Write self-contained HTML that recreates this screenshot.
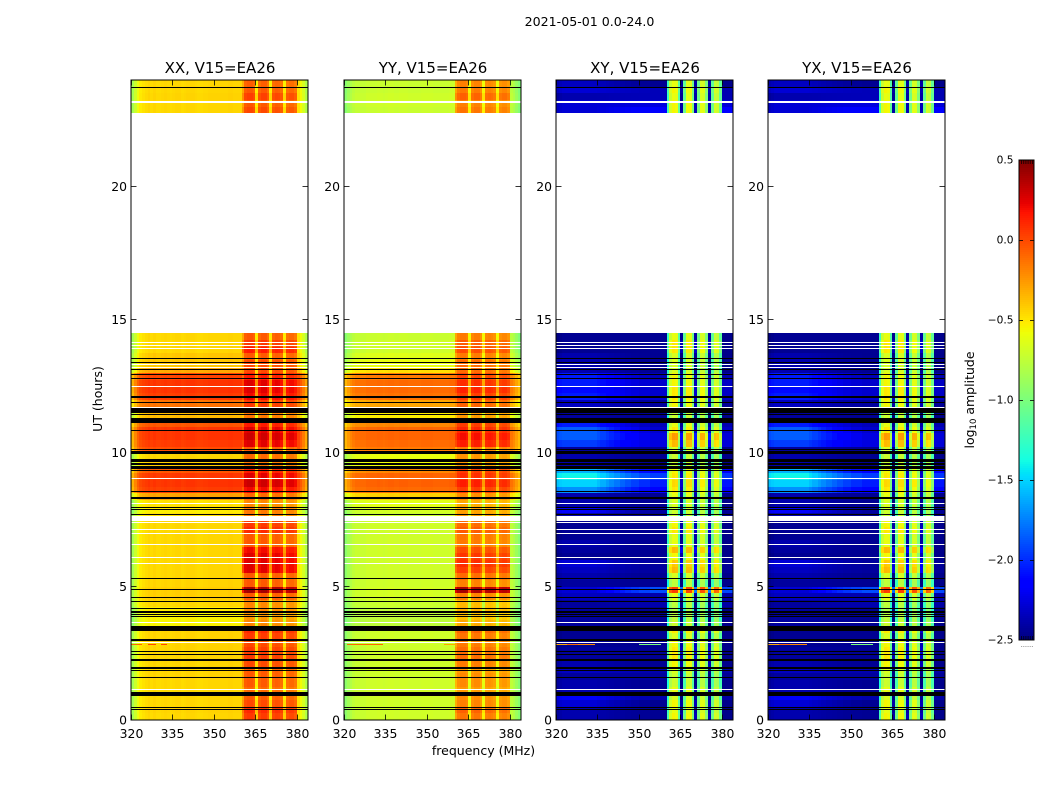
<!DOCTYPE html>
<html lang="en">
<head>
<meta charset="utf-8">
<title>2021-05-01 0.0-24.0</title>
<style>
html,body{margin:0;padding:0;background:#fff;width:1050px;height:800px;overflow:hidden}
svg{display:block}
text{font-family:"DejaVu Sans","Liberation Sans",sans-serif;fill:#000}
</style>
</head>
<body>
<svg id="fig" xmlns="http://www.w3.org/2000/svg" width="1050" height="800" viewBox="0 0 1050 800">
  <rect x="0" y="0" width="1050" height="800" fill="#fff"/>
  <text x="589.5" y="26" font-size="12.6" text-anchor="middle">2021-05-01 0.0-24.0</text>
  <g id="panels"></g>
  <text x="483.5" y="755" font-size="12.5" text-anchor="middle">frequency (MHz)</text>
  <text transform="translate(102,399) rotate(-90)" font-size="12.5" text-anchor="middle">UT (hours)</text>
  <g id="colorbar"></g>
  <text transform="translate(974,400) rotate(-90)" font-size="12.5" text-anchor="middle">log<tspan font-size="8.5" dy="2">10</tspan><tspan dy="-2"> amplitude</tspan></text>
</svg>
<script>
// Categories and tick labels
const panelTitles = ['XX, V15=EA26', 'YY, V15=EA26', 'XY, V15=EA26', 'YX, V15=EA26'];
const freqTicks = [320, 335, 350, 365, 380];
const hourTicks = [0, 5, 10, 15, 20];
const colorbarTicks = [0.5, 0.0, -0.5, -1.0, -1.5, -2.0, -2.5];
const colorbarMinorTicks = [1, 2, 3, 4, 5, 6];
const gapRows = [null,null,null,null,null,null,null,null,null,null,null,null,null,null,null,null,null,null,null,null,null,null,null,null,null,null,null,null,null,null,null,null,null];

// Row values: log10 amplitude per quarter hour, 0h upward; gap 14.5-22.75h
const xxLow = [-.47,-.46,-.47,-.47, -.47,-.47,-.46,-.46, -.46,-.46,-.46,-.46, -.46,-.46,-.56,-.56, -.54,-.47,-.44,-.44, -.46,-.47,-.47,-.47, -.47,-.47,-.47,-.47, -.47,-.47,-.50,-.54, -.50,-.30,.02,.05, .04,-.06,-.44,-.46, -.03,.03,.05,.05, -.06,-.38,-.38,-.15, .02,.05,.05,.0, -.32,-.42,-.42,-.47, -.47,-.47];
const xxLowTop = [-.47,-.47,-.46,-.47,-.47];
const xxHigh = [.0,.05,-.05,-.10, -.15,-.10,-.10,-.10, -.05,.0,.0,-.05, .0,.05,-.25,-.30, -.25,-.25,-.10,.35, -.10,-.10,.20,.20, .20,.15,-.10,-.10, .05,.0,-.20,-.20, -.25,-.15,.15,.25, .20,.10,-.20,-.15, -.10,.20,.25,.20, .10,-.20,-.20,.0, .15,.20,.20,.10, -.05,-.05,-.10,.10, .0,-.10];
const xxHighTop = [-.05,-.10,-.02,-.10,-.12];

const yyLow = [-.72,-.72,-.72,-.72, -.72,-.72,-.72,-.72, -.72,-.72,-.72,-.72, -.72,-.72,-.78,-.78, -.78,-.74,-.70,-.70, -.72,-.72,-.72,-.72, -.72,-.72,-.72,-.72, -.72,-.72,-.74,-.70, -.65,-.45,-.13,-.10, -.11,-.22,-.60,-.62, -.18,-.13,-.11,-.11, -.22,-.55,-.58,-.32, -.16,-.13,-.13,-.18, -.50,-.62,-.66,-.72, -.72,-.74];
const yyLowTop = [-.74,-.72,-.72,-.74,-.74];
const yyHigh = [-.18,-.12,-.22,-.25, -.30,-.25,-.25,-.28, -.20,-.15,-.15,-.20, -.18,-.12,-.35,-.42, -.38,-.40,-.22,.35, -.22,-.15,.0,.05, .02,-.05,-.20,-.18, -.10,-.15,-.30,-.32, -.35,-.25,.0,.10, .05,.0,-.30,-.28, -.20,.10,.15,.08, .0,-.30,-.30,-.12, .0,.08,.05,-.02, -.15,-.15,-.20,-.05, -.10,-.20];
const yyHighTop = [-.18,-.22,-.12,-.20,-.22];

const xyLowLeft = [-2.38,-2.38,-2.28,-2.18, -2.38,-2.38,-2.42,-2.33, -2.38,-2.42,-2.42,-2.45, -2.45,-2.45,-2.42,-2.42, -2.42,-2.42,-2.33,-2.28, -2.42,-2.38,-2.33,-2.28, -2.45,-2.42,-2.38,-2.45, -2.45,-2.45,-2.38,-2.18, -2.38,-2.38,-1.7,-1.5, -1.4,-1.6,-2.38,-2.38, -2.42,-1.95,-1.85,-1.85, -2.05,-2.42,-2.38,-2.33, -2.05,-2.1,-2.05,-2.05, -2.38,-2.38,-2.38,-2.45, -2.45,-2.45];
const xyLowLeftTop = [-2.28,-2.28,-2.38,-2.28,-2.33];
const xyLowRight = [-2.45,-2.45,-2.45,-2.38, -2.45,-2.45,-2.42,-2.38, -2.45,-2.45,-2.45,-2.45, -2.45,-2.45,-2.45,-2.45, -2.45,-2.38,-2.38,-1.9, -2.45,-2.45,-2.42,-2.42, -2.45,-2.45,-2.45,-2.45, -2.45,-2.45,-2.45,-2.42, -2.45,-2.45,-2.15,-2.05, -1.95,-2.15,-2.45,-2.45, -2.45,-2.25,-2.25,-2.3, -2.35,-2.45,-2.45,-2.42, -2.3,-2.3,-2.3,-2.35, -2.45,-2.45,-2.45,-2.45, -2.45,-2.45];
const xyLowRightTop = [-2.15,-2.25,-2.35,-2.35,-2.45];
const xyHigh = [-.65,-.7,-.65,-.75, -.7,-.8,-.8,-.75, -.65,-.6,-.6,-.65, -.75,-.6,-.8,-.85, -.9,-.85,-.7,-.05, -.85,-.75,-.45,-.5, -.65,-.45,-.7,-.7, -.6,-.65,-.8,-.8, -.75,-.7,-.6,-.55, -.6,-.65,-.8,-.8, -.75,-.45,-.35,-.6, -.7,-.8,-.8,-.65, -.6,-.6,-.65,-.65, -.75,-.75,-.75,-.6, -.6,-.7];
const xyHighTop = [-.65,-.65,-.7,-.65,-.7];

// Channel values: 64 one-MHz channels, offset from the row value
const parallelChannelsXX = [-.38,-.24,-.12,-.05,-.02,.0,.02,.0,.02,.0, .0,.01,.02,.01,.0,.01,.02,.02,.0,.01, .02,.02,.02,.01,.0,.0,.01,.01,.02,.02, .02,.02,.02,.02,.02,.03,.03,.02,.02,.02, -.2,.03,.06,.06,.02,-.42,.0,.05,.05,-.03, -.42,.0,.03,.02,-.02,-.42,-.03,.0,.0,-.05, -.02,-.1,-.2,-.34];
const parallelChannelsYY = [-.22,-.14,-.08,-.03,.0,.0,.0,.0,.02,.02, .02,.02,.03,.02,.01,.02,.03,.03,.02,.02, .03,.03,.03,.02,.02,.02,.02,.02,.03,.03, .03,.03,.02,.02,.02,.02,.02,.02,.03,.03, -.1,.02,.05,.05,.02,-.36,.0,.04,.04,-.03, -.36,.0,.02,.0,-.03,-.36,-.03,.0,.0,-.05, -.03,-.08,-.16,-.24];
const crossChannels = [-.05,-.02,.0,.0,.0,.0,.0,.0,.0,.0, .0,.0,.0,.0,.0,.0,.0,.0,.0,.0, .0,.0,.0,.0,.0,.0,.0,.0,.0,.0, .0,.0,.0,.0,.0,.0,.0,.0,.0,.0, -.55,-.02,.1,.08,-.45,-1.75, -.4,.08,.08,-.35, -1.7,-.35,.03,.02,-.3,-1.7,-.4,-.02,-.05,-.4, -.02,-.02,-.02,-.02];
const crossTilt = [1,1,1,1,1,1,1,1,1,1, 1,1,1,1,1,.9,.8,.8,.7,.6, .6,.5,.5,.4,.4,.3,.3,.2,.2,.2, .1,.1,.1,.1,.0,.0,.0,.0,.0,.0];
const uniformTilt = [.5,.5,.5,.5,.5,.5,.5,.5,.5,.5, .5,.5,.5,.5,.5,.5,.5,.5,.5,.5, .5,.5,.5,.5,.5,.5,.5,.5,.5,.5, .5,.5,.5,.5,.5,.5,.5,.5,.5,.5];

// Flagged time ranges in hours [start, end]
const blackFlags = [[5.29,5.32],[4.875,4.91],[4.575,4.61],[4.425,4.46],[4.16,4.2],[4.01,4.09],[3.96,3.99],[3.88,3.91],[3.34,3.53],[2.98,3.04],[2.57,2.6],[2.44,2.48],[2.23,2.29],[1.93,1.99],[1.84,1.89],[1.575,1.61],[.91,1.06],[.45,.49],[.375,.41],[13.54,13.58],[13.4,13.44],[13.125,13.16],[12.94,12.975],[12.79,12.825],[12.09,12.15],[11.9,11.94],[11.51,11.7],[11.42,11.46],[11.19,11.31],[11.12,11.16],[10.84,10.875],[10.125,10.16],[9.99,10.09],[9.73,9.77],[9.69,9.73],[9.58,9.62],[9.43,9.525],[9.36,9.39],[8.55,8.59],[8.27,8.36],[7.97,8.0],[7.875,7.91],[7.69,7.725],[23.7,23.74]];
const whiteFlags = [[14.125,14.175],[14.01,14.06],[13.9,13.95],[13.31,13.36],[13.21,13.256],[12.49,12.54],[11.68,11.74],[9.03,9.075],[8.09,8.14],[7.46,7.65],[7.4,7.44],[7.11,7.16],[6.975,7.02],[6.56,6.61],[6.075,6.125],[5.85,5.9],[3.64,3.69],[2.875,2.925],[1.125,1.175],[23.12,23.2]];

// Interference burst at 2.83h: [first channel, last channel, value]
const rfiHours = [2.8, 2.86];
const rfiXX = [[0,3,-.1],[6,8,.0],[11,12,.0]];
const rfiYY = [[1,13,-.1],[36,40,-.3]];
const rfiCross = [[0,3,-.3],[4,7,-.1],[8,13,-.2],[30,37,-1.0]];

const panelXs = [131, 344, 556, 768];
const panelSpecs = [
  {key:'xx', left:xxLow, leftTop:xxLowTop, right:xxLow, rightTop:xxLowTop, high:xxHigh, highTop:xxHighTop, channels:parallelChannelsXX, tilt:uniformTilt, rfi:rfiXX},
  {key:'yy', left:yyLow, leftTop:yyLowTop, right:yyLow, rightTop:yyLowTop, high:yyHigh, highTop:yyHighTop, channels:parallelChannelsYY, tilt:uniformTilt, rfi:rfiYY},
  {key:'xy', left:xyLowLeft, leftTop:xyLowLeftTop, right:xyLowRight, rightTop:xyLowRightTop, high:xyHigh, highTop:xyHighTop, channels:crossChannels, tilt:crossTilt, rfi:rfiCross},
  {key:'yx', left:xyLowLeft, leftTop:xyLowLeftTop, right:xyLowRight, rightTop:xyLowRightTop, high:xyHigh, highTop:xyHighTop, channels:crossChannels, tilt:crossTilt, rfi:rfiCross}
];

const SVGNS = 'http://www.w3.org/2000/svg';
const PLOT_TOP = 80, PLOT_BOTTOM = 720, PANEL_W = 177, CH_COUNT = 64, BAND_START = 40, BAND_END = 59;
const V_MIN = -2.5, V_MAX = 0.5;

function yScale(hour){ return PLOT_BOTTOM - hour * (PLOT_BOTTOM - PLOT_TOP) / 24; }
function xScale(x0, freq){ return x0 + (freq - 320) * PANEL_W / CH_COUNT; }
function seg(v, pts){
  if (v <= pts[0][0]) return pts[0][1];
  for (let i = 1; i < pts.length; i++) {
    if (v <= pts[i][0]) {
      const a = pts[i-1], b = pts[i];
      return a[1] + (b[1]-a[1]) * (v-a[0]) / (b[0]-a[0]);
    }
  }
  return pts[pts.length-1][1];
}
function jet(value){
  const n = Math.max(0, Math.min(1, (value - V_MIN) / (V_MAX - V_MIN)));
  const r = seg(n, [[0,0],[.35,0],[.66,1],[.89,1],[1,.5]]);
  const g = seg(n, [[0,0],[.125,0],[.375,1],[.64,1],[.91,0],[1,0]]);
  const b = seg(n, [[0,.5],[.11,1],[.34,1],[.65,0],[1,0]]);
  return 'rgb(' + Math.round(r*255) + ',' + Math.round(g*255) + ',' + Math.round(b*255) + ')';
}
function mk(tag, attrs, parent){
  const el = document.createElementNS(SVGNS, tag);
  for (const k in attrs) el.setAttribute(k, attrs[k]);
  parent.appendChild(el);
  return el;
}
function cellValue(spec, r, c){
  const left = r < 58 ? spec.left[r] : spec.leftTop[r-91];
  const right = r < 58 ? spec.right[r] : spec.rightTop[r-91];
  const high = r < 58 ? spec.high[r] : spec.highTop[r-91];
  if (c >= BAND_START && c <= BAND_END) return high + spec.channels[c];
  const t = c < BAND_START ? spec.tilt[c] : 0;
  return right + (left - right) * t + spec.channels[c];
}

const panelsRoot = document.getElementById('panels');
panelSpecs.forEach(function(spec, p){
  const x0 = panelXs[p];
  const g = mk('g', {}, panelsRoot);
  
  
  const rows = 96;
  for (let r = 0; r < rows; r++) {
    if (r >= 58 && r < 58 + gapRows.length) continue;
    const y1 = Math.round(yScale((r+1)/4));
    const y2 = Math.round(yScale(r/4));
    for (let c = 0; c < CH_COUNT; c++) {
      const x1 = Math.round(xScale(x0, 320 + c));
      const x2 = Math.round(xScale(x0, 320 + c + 1));
      const cell = mk('rect', {x:x1, y:y1, width:x2-x1, height:y2-y1, fill:jet(cellValue(spec, r, c))}, g);
      
      
    }
  }
  spec.rfi.forEach(function(b){
    const x1 = Math.round(xScale(x0, 320 + b[0]));
    const x2 = Math.round(xScale(x0, 320 + b[1] + 1));
    const y1 = Math.round(yScale(rfiHours[1]));
    const y2 = Math.round(yScale(rfiHours[0]));
    const burst = mk('rect', {x:x1, y:y1, width:x2-x1, height:Math.max(1,y2-y1), fill:jet(b[2])}, g);
    
    
  });
  const drawFlags = function(list, color, name){
    list.forEach(function(f){
      const y1 = Math.round(yScale(f[1]));
      const y2 = Math.round(yScale(f[0]));
      const flag = mk('rect', {x:x0, y:y1, width:PANEL_W, height:Math.max(1,y2-y1), fill:color}, g);
      
      
    });
  };
  drawFlags(whiteFlags, '#fff', 'flagged-row-white');
  drawFlags(blackFlags, '#000', 'flagged-row-black');

  freqTicks.forEach(function(f){
    const x = Math.round(xScale(x0, f)) + .5;
    const t1 = mk('line', {x1:x, x2:x, y1:PLOT_TOP, y2:PLOT_TOP+5.5, stroke:'#000', 'stroke-width':.8}, g);
    
    
    const t2 = mk('line', {x1:x, x2:x, y1:PLOT_BOTTOM-5.5, y2:PLOT_BOTTOM, stroke:'#000', 'stroke-width':.8}, g);
    
    
    const lab = mk('text', {x:x, y:738, 'font-size':12.4, 'text-anchor':'middle'}, g);
    lab.textContent = String(f);
    
    
  });
  hourTicks.forEach(function(h){
    const y = Math.round(yScale(h)) + (h === 0 ? 0 : -.5);
    const t1 = mk('line', {x1:x0, x2:x0+5.5, y1:y, y2:y, stroke:'#000', 'stroke-width':.8}, g);
    
    
    const t2 = mk('line', {x1:x0+PANEL_W-5.5, x2:x0+PANEL_W, y1:y, y2:y, stroke:'#000', 'stroke-width':.8}, g);
    
    
    const lab = mk('text', {x:x0-4, y:y+4.5, 'font-size':12.4, 'text-anchor':'end'}, g);
    lab.textContent = String(h);
    
    
  });
  const frame = mk('rect', {x:x0, y:PLOT_TOP, width:PANEL_W, height:PLOT_BOTTOM-PLOT_TOP, fill:'none', stroke:'#000', 'stroke-width':1}, g);
  
  
  const title = mk('text', {x:x0+PANEL_W/2+.5, y:73, 'font-size':15, 'text-anchor':'middle'}, g);
  title.textContent = panelTitles[p];
  
  
});

// Colorbar
const cb = document.getElementById('colorbar');
const CB_X = 1019, CB_W = 15, CB_TOP = 160, CB_BOTTOM = 640;
function cbY(v){ return CB_BOTTOM - (v - V_MIN) / (V_MAX - V_MIN) * (CB_BOTTOM - CB_TOP); }
for (let py = CB_TOP; py < CB_BOTTOM; py += 2) {
  const v = V_MAX - (py + 1 - CB_TOP) / (CB_BOTTOM - CB_TOP) * (V_MAX - V_MIN);
  const strip = mk('rect', {x:CB_X, y:py, width:CB_W, height:2, fill:jet(v)}, cb);
  
  
}
colorbarTicks.forEach(function(v){
  const y = Math.round(cbY(v));
  if (v !== V_MAX && v !== V_MIN) {
    const a = mk('line', {x1:CB_X, x2:CB_X+4, y1:y+.5, y2:y+.5, stroke:'#000', 'stroke-width':.8}, cb);
    
    
    const b = mk('line', {x1:CB_X+CB_W-4, x2:CB_X+CB_W, y1:y+.5, y2:y+.5, stroke:'#000', 'stroke-width':.8}, cb);
    
    
  }
  const lab = mk('text', {x:1013.5, y:y+3.5, 'font-size':10.6, 'text-anchor':'end'}, cb);
  lab.textContent = (v < 0 ? '\u2212' : '') + Math.abs(v).toFixed(1);
  
  
});
colorbarMinorTicks.forEach(function(i){
  const x = CB_X + i * CB_W / (colorbarMinorTicks.length + 1) + .5;
  const a = mk('line', {x1:x, x2:x, y1:CB_TOP, y2:CB_TOP+4, stroke:'#000', 'stroke-width':.7}, cb);
  
  
  const b = mk('line', {x1:x, x2:x, y1:CB_BOTTOM-4, y2:CB_BOTTOM, stroke:'#000', 'stroke-width':.7}, cb);
  
  
  const d = mk('rect', {x:x-.5, y:646, width:1, height:1, fill:'#999'}, cb);
  
  
});
const cbFrame = mk('rect', {x:CB_X, y:CB_TOP, width:CB_W, height:CB_BOTTOM-CB_TOP, fill:'none', stroke:'#000', 'stroke-width':1}, cb);


</script>
</body>
</html>
